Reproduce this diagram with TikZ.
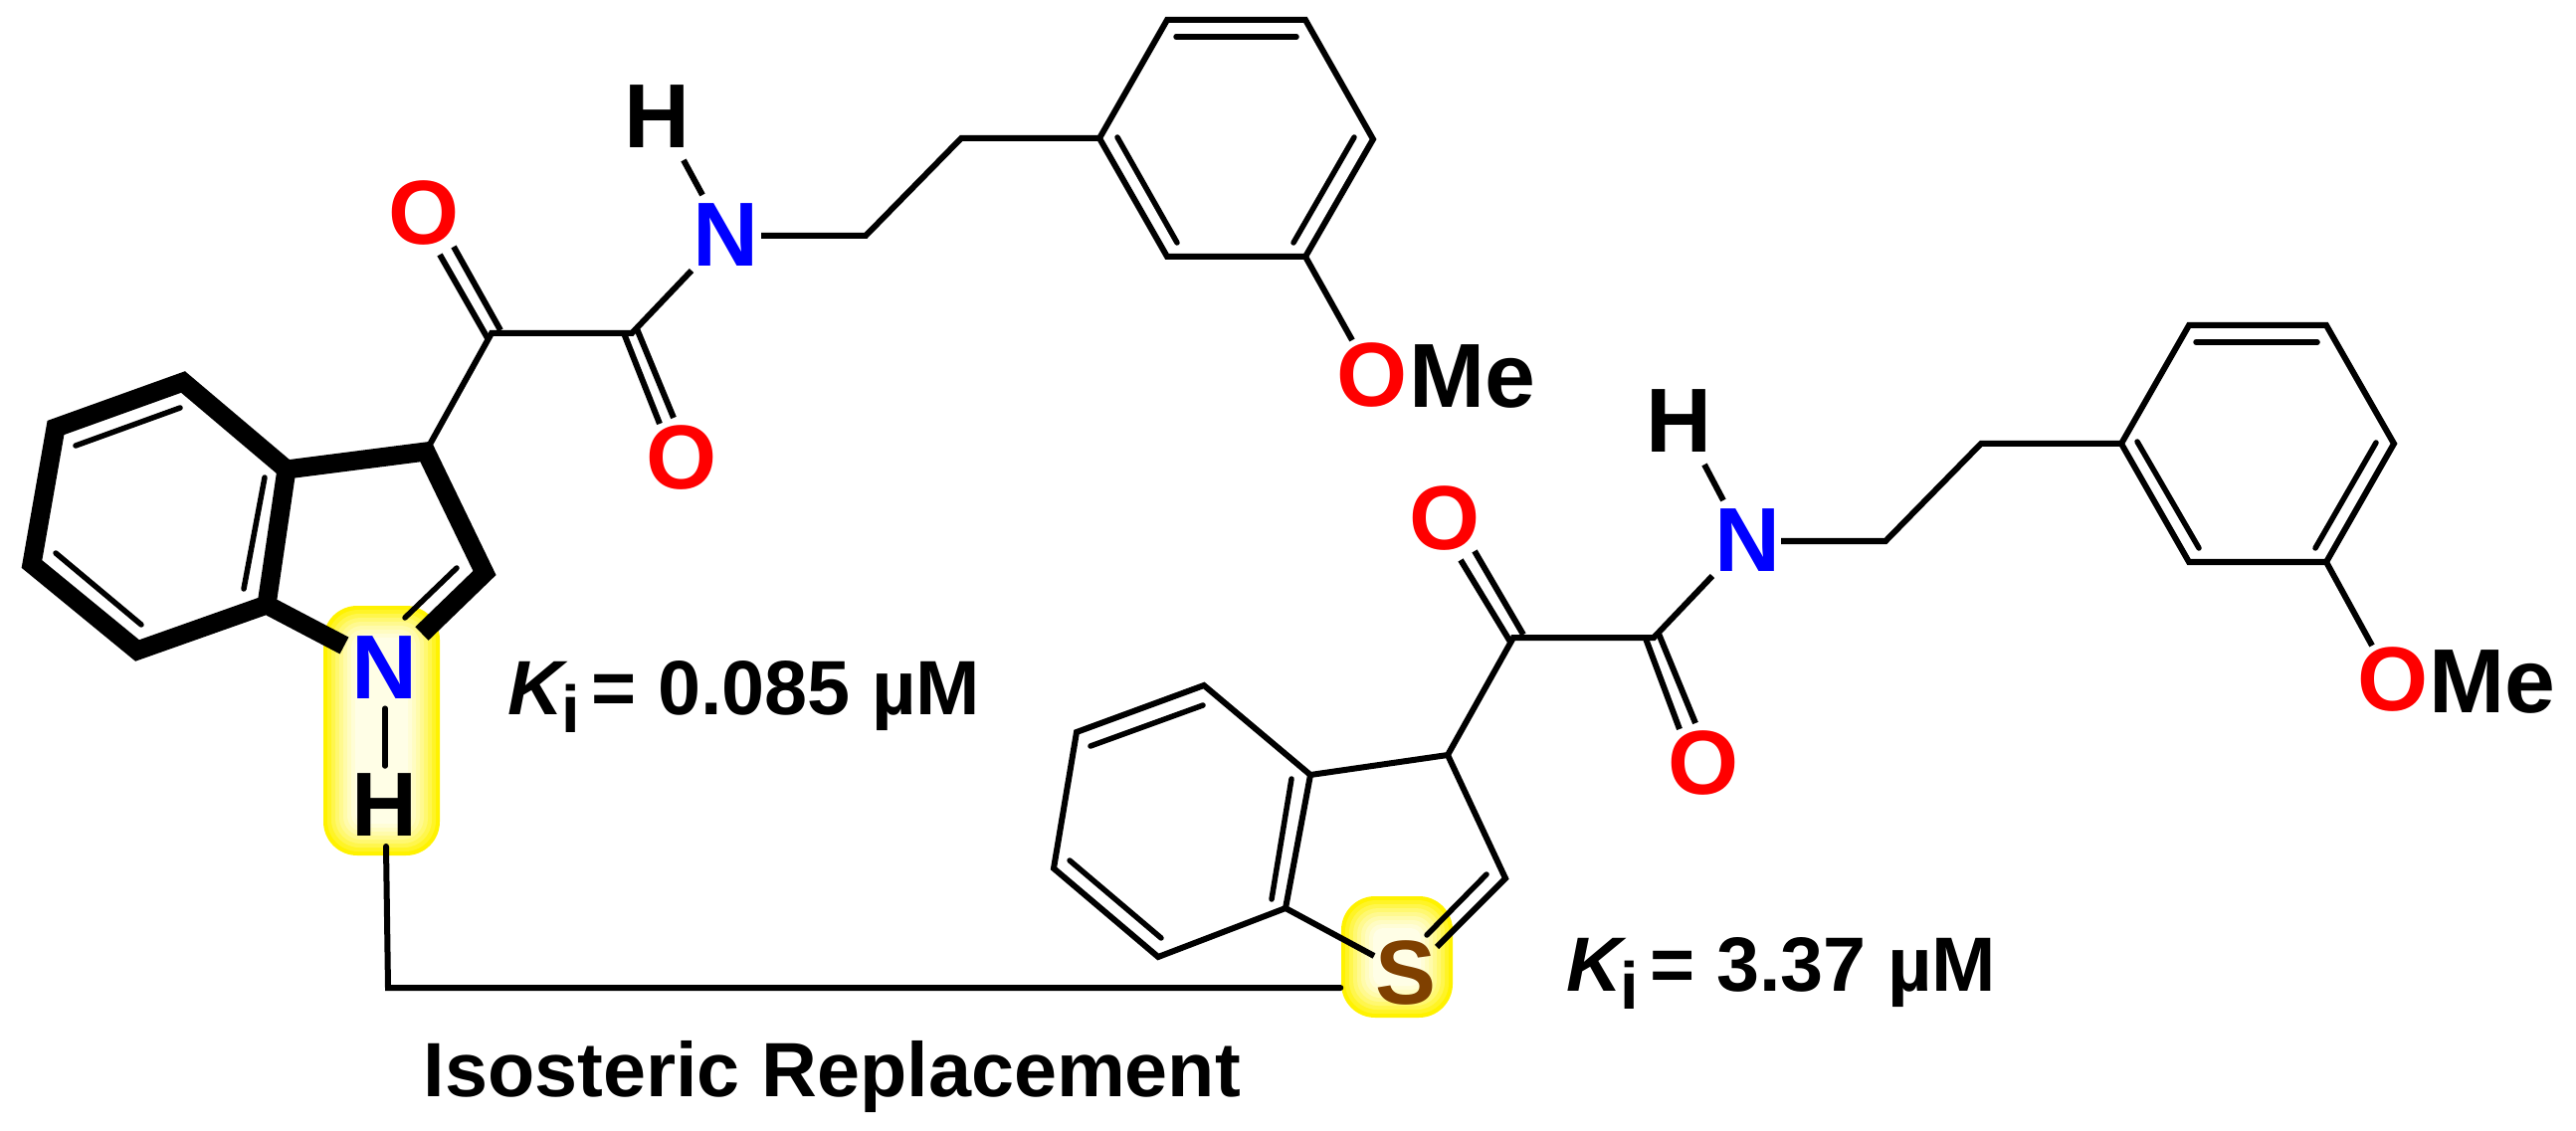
\documentclass[tikz,border=0pt]{standalone}
\usepackage{fontspec}
\setmainfont{Liberation Sans}
\newcommand{\atomfont}{\fontsize{26}{26}\selectfont\bfseries}
\newcommand{\labelfont}{\fontsize{22}{22}\selectfont\bfseries}
\newcommand{\Kisub}{{\itshape K}\kern-0.02cm\raisebox{-0.24em}{\fontsize{19}{19}\selectfont i}\kern-0.1cm}
\definecolor{atomS}{RGB}{127,64,0}
\tikzset{
  bond/.style={line width=0.06cm,line join=miter,line cap=butt},
  innerbond/.style={line width=0.055cm,line cap=round},
  heavybond/.style={line width=0.19cm,line join=miter,line cap=butt},
  atom/.style={inner sep=0pt,font=\atomfont},
  oxy/.style={atom,text=red},
  nit/.style={atom,text=blue},
  sul/.style={atom,text=atomS},
  caption/.style={inner sep=0pt,font=\labelfont,anchor=base west},
  hlbox/.style={inner sep=0pt,minimum width=0pt}
}
\begin{document}
\begin{tikzpicture}[x=0.01cm,y=-0.01cm]
\useasboundingbox (0,0) rectangle (2589,1137);
\fill[white] (0,0) rectangle (2589,1137);
% highlights
\foreach \i/\p in {0/100,1/85,2/70,3/56,4/44,5/33,6/24,7/16,8/10}{
  \fill[yellow!\p!white,rounded corners={max(8,34-\i*3)*0.01cm}]
    ({325+\i*4},{609+\i*4}) rectangle ({442-\i*4},{860-\i*4});
  \fill[yellow!\p!white,rounded corners={max(8,34-\i*3)*0.01cm}]
    ({1348+\i*4},{901+\i*4}) rectangle ({1460-\i*4},{1023-\i*4});
}
\node[hlbox,minimum width=1.17cm,minimum height=2.51cm] (hlA) at (383.5,734.5) {};
\node[hlbox,minimum width=1.12cm,minimum height=1.22cm] (hlB) at (1404,962) {};
% coordinates: molecule 1
\coordinate (a1) at (1173,20); \coordinate (a2) at (1312,20); \coordinate (a3) at (1380,140);
\coordinate (a4) at (1312,258); \coordinate (a5) at (1173,258); \coordinate (a6) at (1105,139);
\coordinate (c1) at (966,139); \coordinate (c2) at (870,237); \coordinate (nb) at (765,237);
\coordinate (am) at (635,335); \coordinate (ke) at (494,335); \coordinate (nc) at (695,272);
\coordinate (nh1) at (706,196); \coordinate (nh2) at (687,161);
\coordinate (c3) at (428,454); \coordinate (c2r) at (487,576); \coordinate (n2) at (424,637);
\coordinate (c3a) at (288,472); \coordinate (c4) at (184,384); \coordinate (c5) at (56,430);
\coordinate (c6) at (32,567); \coordinate (c7) at (138,654); \coordinate (c7a) at (268,608);
\coordinate (n1) at (346,649); \coordinate (ome1) at (1359,342);
% coordinates: molecule 2
\coordinate (b1) at (2200,327); \coordinate (b2) at (2338,327); \coordinate (b3) at (2406,446);
\coordinate (b4) at (2338,565); \coordinate (b5) at (2200,565); \coordinate (b6) at (2132,446);
\coordinate (d1) at (1991,446); \coordinate (d2) at (1895,544); \coordinate (mb) at (1790,544);
\coordinate (bm) at (1662,641); \coordinate (bk) at (1521,641); \coordinate (mc) at (1721,579);
\coordinate (mh1) at (1732,503); \coordinate (mh2) at (1713,467);
\coordinate (e3) at (1455,759); \coordinate (e2) at (1513,883); \coordinate (s2) at (1444,952);
\coordinate (e3a) at (1317,779); \coordinate (e4) at (1210,689); \coordinate (e5) at (1082,736);
\coordinate (e6) at (1059,873); \coordinate (e7) at (1164,962); \coordinate (e7a) at (1292,913);
\coordinate (s1) at (1381,961); \coordinate (ome2) at (2384,649);
% molecule 1 bonds
\draw[bond] (a1) -- (a2) -- (a3) -- (a4) -- (a5) -- (a6) -- cycle;
\draw[innerbond] (1182,37) -- (1303,37);
\draw[innerbond] (1123,138) -- (1183,244);
\draw[innerbond] (1361,138) -- (1300,244);
\draw[bond] (a6) -- (c1) -- (c2) -- (nb);
\draw[bond] (a4) -- (ome1);
\draw[bond] (nh1) -- (nh2);
\draw[bond] (nc) -- (am) -- (ke) -- (c3);
\draw[bond] (490,340) -- (442,256);
\draw[bond] (503,332) -- (456,248);
\draw[bond] (627,335) -- (663,426);
\draw[bond] (639,328) -- (677,420);
\draw[heavybond] (n1) -- (c7a) -- (c7) -- (c6) -- (c5) -- (c4) -- (c3a) -- (c3) -- (c2r) -- (n2);
\draw[heavybond] (c3a) -- (c7a);
\draw[innerbond] (76,448) -- (181,410);
\draw[innerbond] (266,480) -- (245,592);
\draw[innerbond] (56,556) -- (142,628);
\draw[innerbond] (459,571) -- (407,621);
% molecule 2 bonds
\draw[bond] (b1) -- (b2) -- (b3) -- (b4) -- (b5) -- (b6) -- cycle;
\draw[innerbond] (2207,344) -- (2329,344);
\draw[innerbond] (2148,444) -- (2210,551);
\draw[innerbond] (2388,445) -- (2327,551);
\draw[bond] (b6) -- (d1) -- (d2) -- (mb);
\draw[bond] (b4) -- (ome2);
\draw[bond] (mh1) -- (mh2);
\draw[bond] (mc) -- (bm) -- (bk) -- (e3);
\draw[bond] (1519,647) -- (1468,563);
\draw[bond] (1531,638) -- (1482,554);
\draw[bond] (1654,642) -- (1688,733);
\draw[bond] (1667,637) -- (1704,727);
\draw[bond] (s1) -- (e7a) -- (e7) -- (e6) -- (e5) -- (e4) -- (e3a) -- (e3) -- (e2) -- (s2);
\draw[bond] (e3a) -- (e7a);
\draw[innerbond] (1209,709) -- (1096,750);
\draw[innerbond] (1298,783) -- (1278,904);
\draw[innerbond] (1075,865) -- (1167,943);
\draw[innerbond] (1494,879) -- (1434,940);
% atom labels
\node[atom] (H1) at (661,117) {H};
\node[nit] (N1) at (730,236) {N};
\node[oxy] (O1) at (426,214) {O};
\node[oxy] (O2) at (685,460) {O};
\node[oxy] (O3) at (1379,377) {O};
\node[atom,anchor=base west] (Me1) at (1416,410) {Me};
\node[nit] (N2) at (387,671) {N};
\node[atom] (H2) at (387,809) {H};
\draw[innerbond] (N2.south) ++(0,9) coordinate (nhA) -- (H2.north |- 0,770) coordinate (nhB);
\node[atom] (H3) at (1687,423) {H};
\node[nit] (N3) at (1756,543) {N};
\node[oxy] (O4) at (1452,521) {O};
\node[oxy] (O5) at (1712,767) {O};
\node[oxy] (O6) at (2405,683) {O};
\node[atom,anchor=base west] (Me2) at (2441,716) {Me};
\node[sul] (S1) at (1413,978) {S};
% isostere connector
\coordinate (link1) at (388,851);
\coordinate (link2) at (390,993);
\draw[bond,line cap=round] (link1) -- (link2) -- (hlB.west |- link2);
% captions
\node[caption] (ki1) at (510,718) {\Kisub{} = 0.085 µM};
\node[caption] (ki2) at (1574,996) {\Kisub{} = 3.37 µM};
\node[caption] (iso) at (425,1102) {Isosteric Replacement};
\end{tikzpicture}
\end{document}
